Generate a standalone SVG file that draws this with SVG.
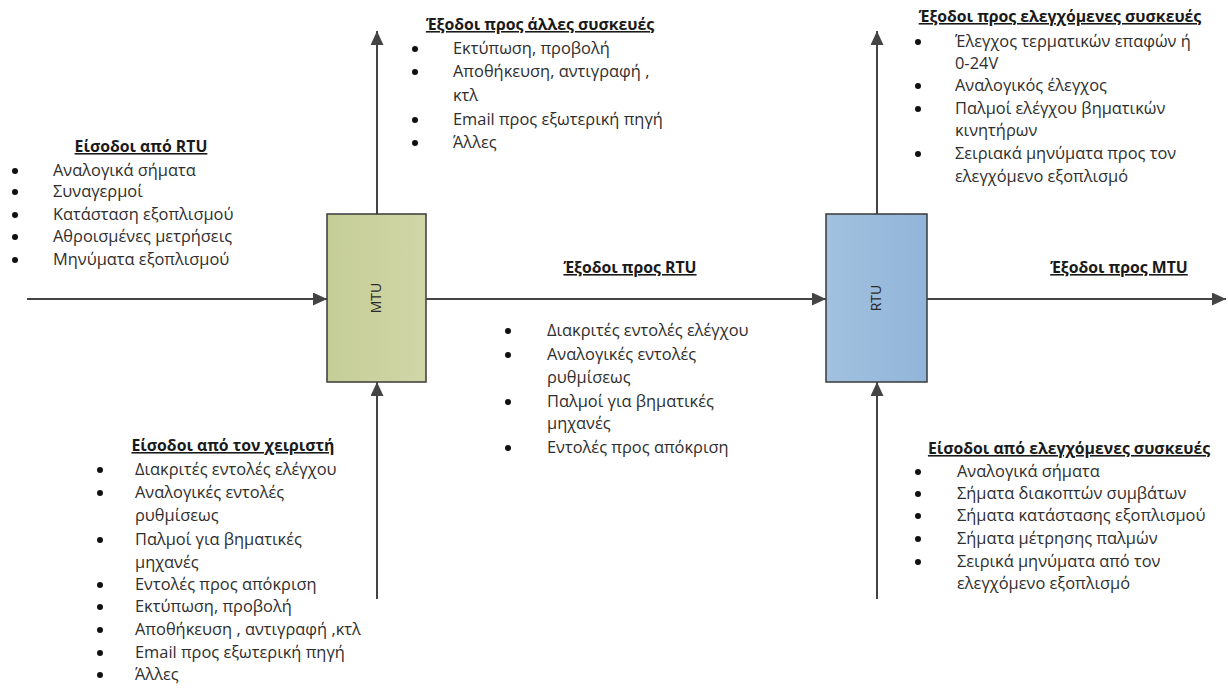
<svg xmlns="http://www.w3.org/2000/svg" width="1228" height="688" viewBox="0 0 1228 688">
  <style>
    .item { font-family: "Open Sans", "Noto Sans", "DejaVu Sans", sans-serif; font-size: 16.4px; fill: #2e2e2e; }
    .head { font-family: "Open Sans", "Noto Sans", "DejaVu Sans", sans-serif; font-size: 15.8px; font-weight: bold; fill: #1a1a1a; text-decoration: underline; text-anchor: middle; }
    .box-label { font-family: "Open Sans", "Noto Sans", sans-serif; font-size: 14px; fill: #2a2a2a; text-anchor: middle; }
    .bullet { fill: #111; }
    .wire { stroke: #444; stroke-width: 2; fill: none; marker-end: url(#arrow); }
    .box { stroke: #3a3a3a; stroke-width: 1.5; }
  </style>
  <defs>
    <marker id="arrow" markerUnits="userSpaceOnUse" markerWidth="15" markerHeight="13" refX="14" refY="6.5" orient="auto">
      <path d="M0,0 L14,6.5 L0,13 Z" fill="#444"/>
    </marker>
    <linearGradient id="mtuFill" x1="0" y1="0" x2="1" y2="0">
      <stop offset="0" stop-color="#c5cd97"/>
      <stop offset="1" stop-color="#d0d6a6"/>
    </linearGradient>
    <linearGradient id="rtuFill" x1="0" y1="0" x2="1" y2="0">
      <stop offset="0" stop-color="#a2c1df"/>
      <stop offset="1" stop-color="#91b5d9"/>
    </linearGradient>
  </defs>
  <rect width="1228" height="688" fill="#ffffff"/>

  <!-- signal paths -->
  <g id="connectors">
    <line class="wire" x1="27" y1="299" x2="327" y2="299"/>
    <line class="wire" x1="426" y1="299" x2="826" y2="299"/>
    <line class="wire" x1="927" y1="299" x2="1226" y2="299"/>
    <line class="wire" x1="377" y1="214" x2="377" y2="31"/>
    <line class="wire" x1="377" y1="599" x2="377" y2="382"/>
    <line class="wire" x1="877" y1="214" x2="877" y2="31"/>
    <line class="wire" x1="877" y1="599" x2="877" y2="382"/>
  </g>

  <!-- master terminal unit -->
  <g id="mtu">
    <rect class="box" x="327" y="214" width="99" height="168" fill="url(#mtuFill)"/>
    <text class="box-label" transform="translate(381,298) rotate(-90)">MTU</text>
  </g>

  <!-- remote terminal unit -->
  <g id="rtu">
    <rect class="box" x="826" y="214" width="101" height="168" fill="url(#rtuFill)"/>
    <text class="box-label" transform="translate(881,298) rotate(-90)">RTU</text>
  </g>

  <!-- inputs from RTU -->
  <g id="inputs-from-rtu">
    <text class="head" x="141" y="152">Είσοδοι από RTU</text>
    <circle class="bullet" cx="15" cy="171" r="3"/>
    <circle class="bullet" cx="15" cy="192" r="3"/>
    <circle class="bullet" cx="15" cy="215" r="3"/>
    <circle class="bullet" cx="15" cy="237" r="3"/>
    <circle class="bullet" cx="15" cy="260" r="3"/>
    <text class="item" x="53" y="176">Αναλογικά σήματα</text>
    <text class="item" x="53" y="197">Συναγερμοί</text>
    <text class="item" x="53" y="220">Κατάσταση εξοπλισμού</text>
    <text class="item" x="53" y="242">Αθροισμένες μετρήσεις</text>
    <text class="item" x="53" y="265">Μηνύματα εξοπλισμού</text>
  </g>

  <!-- outputs to other devices -->
  <g id="outputs-to-devices">
    <text class="head" x="540" y="30">Έξοδοι προς άλλες συσκευές</text>
    <circle class="bullet" cx="415" cy="49" r="3"/>
    <circle class="bullet" cx="415" cy="72" r="3"/>
    <circle class="bullet" cx="415" cy="120" r="3"/>
    <circle class="bullet" cx="415" cy="143" r="3"/>
    <text class="item" x="453" y="54">Εκτύπωση, προβολή</text>
    <text class="item" x="453" y="77">Αποθήκευση, αντιγραφή ,</text>
    <text class="item" x="453" y="101">κτλ</text>
    <text class="item" x="453" y="125">Email προς εξωτερική πηγή</text>
    <text class="item" x="453" y="148">Άλλες</text>
  </g>

  <!-- outputs to controlled devices -->
  <g id="outputs-to-controlled">
    <text class="head" x="1060" y="22">Έξοδοι προς ελεγχόμενες συσκευές</text>
    <circle class="bullet" cx="918" cy="42" r="3"/>
    <circle class="bullet" cx="918" cy="86" r="3"/>
    <circle class="bullet" cx="918" cy="109" r="3"/>
    <circle class="bullet" cx="918" cy="154" r="3"/>
    <text class="item" x="955" y="47">Έλεγχος τερματικών επαφών ή</text>
    <text class="item" x="955" y="69">0-24V</text>
    <text class="item" x="955" y="91">Αναλογικός έλεγχος</text>
    <text class="item" x="955" y="114">Παλμοί ελέγχου βηματικών</text>
    <text class="item" x="955" y="136">κινητήρων</text>
    <text class="item" x="955" y="159">Σειριακά μηνύματα προς τον</text>
    <text class="item" x="955" y="182">ελεγχόμενο εξοπλισμό</text>
  </g>

  <!-- outputs to RTU -->
  <g id="outputs-to-rtu">
    <text class="head" x="630" y="273">Έξοδοι προς RTU</text>
    <circle class="bullet" cx="508" cy="331" r="3"/>
    <circle class="bullet" cx="508" cy="355" r="3"/>
    <circle class="bullet" cx="508" cy="402" r="3"/>
    <circle class="bullet" cx="508" cy="448" r="3"/>
    <text class="item" x="547" y="336">Διακριτές εντολές ελέγχου</text>
    <text class="item" x="547" y="360">Αναλογικές εντολές</text>
    <text class="item" x="547" y="383">ρυθμίσεως</text>
    <text class="item" x="547" y="407">Παλμοί για βηματικές</text>
    <text class="item" x="547" y="429">μηχανές</text>
    <text class="item" x="547" y="453">Εντολές προς απόκριση</text>
  </g>

  <!-- outputs to MTU -->
  <g id="outputs-to-mtu">
    <text class="head" x="1119" y="273">Έξοδοι προς MTU</text>
  </g>

  <!-- operator inputs -->
  <g id="operator-inputs">
    <text class="head" x="233" y="451">Είσοδοι από τον χειριστή</text>
    <circle class="bullet" cx="100" cy="470" r="3"/>
    <circle class="bullet" cx="100" cy="493" r="3"/>
    <circle class="bullet" cx="100" cy="540" r="3"/>
    <circle class="bullet" cx="100" cy="585" r="3"/>
    <circle class="bullet" cx="100" cy="607" r="3"/>
    <circle class="bullet" cx="100" cy="630" r="3"/>
    <circle class="bullet" cx="100" cy="653" r="3"/>
    <circle class="bullet" cx="100" cy="675" r="3"/>
    <text class="item" x="135" y="475">Διακριτές εντολές ελέγχου</text>
    <text class="item" x="135" y="498">Αναλογικές εντολές</text>
    <text class="item" x="135" y="521">ρυθμίσεως</text>
    <text class="item" x="135" y="545">Παλμοί για βηματικές</text>
    <text class="item" x="135" y="568">μηχανές</text>
    <text class="item" x="135" y="590">Εντολές προς απόκριση</text>
    <text class="item" x="135" y="612">Εκτύπωση, προβολή</text>
    <text class="item" x="135" y="635">Αποθήκευση , αντιγραφή ,κτλ</text>
    <text class="item" x="135" y="658">Email προς εξωτερική πηγή</text>
    <text class="item" x="135" y="680">Άλλες</text>
  </g>

  <!-- inputs from controlled devices -->
  <g id="inputs-from-controlled">
    <text class="head" x="1069" y="454">Είσοδοι από ελεγχόμενες συσκευές</text>
    <circle class="bullet" cx="918" cy="472" r="3"/>
    <circle class="bullet" cx="918" cy="494" r="3"/>
    <circle class="bullet" cx="918" cy="516" r="3"/>
    <circle class="bullet" cx="918" cy="539" r="3"/>
    <circle class="bullet" cx="918" cy="562" r="3"/>
    <text class="item" x="957" y="477">Αναλογικά σήματα</text>
    <text class="item" x="957" y="499">Σήματα διακοπτών συμβάτων</text>
    <text class="item" x="957" y="521">Σήματα κατάστασης εξοπλισμού</text>
    <text class="item" x="957" y="544">Σήματα μέτρησης παλμών</text>
    <text class="item" x="957" y="567">Σειρικά μηνύματα από τον</text>
    <text class="item" x="957" y="589">ελεγχόμενο εξοπλισμό</text>
  </g>
</svg>
